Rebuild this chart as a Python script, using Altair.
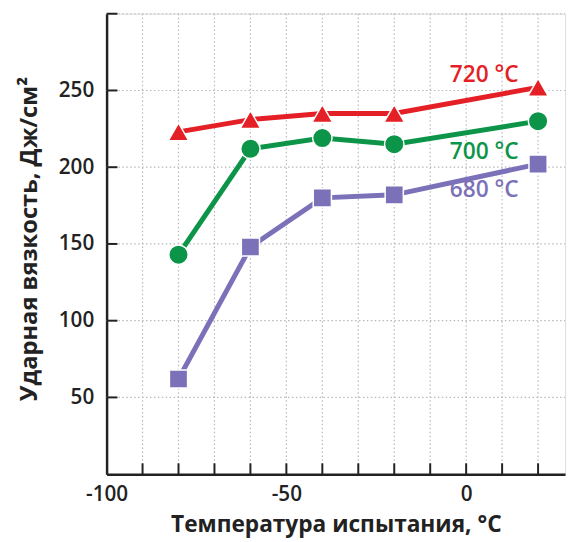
import altair as alt
import pandas as pd

temps = [-80, -60, -40, -20, 20]
v720 = [223, 231, 235, 235, 252]
v700 = [143, 212, 219, 215, 230]
v680 = [62, 148, 180, 182, 202]
series = ["720 °C", "700 °C", "680 °C"]
colors = ["#e41f26", "#0c9548", "#7b71b9"]
shapes = ["triangle-up", "circle", "square"]
sizes = [440, 340, 260]
label_x = [5, 5, 5]
label_y = [260, 210, 185]
x_ticks = list(range(-100, 21, 10))
y_ticks = list(range(0, 301, 50))
x_labels = [-100, -50, 0]

rows = []
for name, vals in zip(series, [v720, v700, v680]):
    for t, v in zip(temps, vals):
        rows.append({"series": name, "t": t, "v": v})
df = pd.DataFrame(rows)
lab = pd.DataFrame({"series": series, "x": label_x, "y": label_y})
xt = pd.DataFrame({"x": x_ticks[1:]})
yt = pd.DataFrame({"y": y_ticks[1:]})

W, H = 465, 467
FONT = "Open Sans"

xscale = alt.Scale(domain=[-100, 27.5], nice=False, zero=False)
yscale = alt.Scale(domain=[0, 300], nice=False)
cscale = alt.Scale(domain=series, range=colors)
sscale = alt.Scale(domain=series, range=shapes)
zscale = alt.Scale(domain=series, range=sizes)

xaxis = alt.Axis(
    values=x_labels, labelExpr="'' + datum.value",
    labelFlush=False, labelPadding=10, labelOverlap=False,
    title="Температура испытания, °C", titleFontSize=23,
    titleY=51, titleBaseline="middle",
)
yaxis = alt.Axis(
    values=y_ticks[1:-1], labelExpr="'' + datum.value",
    labelPadding=13, labelOverlap=False,
    title="Ударная вязкость, Дж/см²", titleFontSize=24,
    titleX=-78, titleY=228, titleAngle=270, titleAlign="center", titleBaseline="middle",
)

grid_style = dict(color="#b8b8b8", strokeWidth=1.2, strokeDash=[1.5, 2.5])
vgrid = alt.Chart(xt).mark_rule(**grid_style).encode(
    x=alt.X("x:Q", scale=xscale, axis=xaxis), y=alt.value(0), y2=alt.value(H)
)
hgrid = alt.Chart(yt).mark_rule(**grid_style).encode(
    y=alt.Y("y:Q", scale=yscale, axis=yaxis), x=alt.value(0), x2=alt.value(W)
)

base = alt.Chart(df)
lines = base.mark_line(strokeWidth=5).encode(
    x=alt.X("t:Q", scale=xscale),
    y=alt.Y("v:Q", scale=yscale),
    color=alt.Color("series:N", scale=cscale, legend=None),
    detail="series:N",
)
points = base.mark_point(filled=True, opacity=1, strokeWidth=1.5).encode(
    x="t:Q", y="v:Q",
    fill=alt.Fill("series:N", scale=cscale, legend=None),
    shape=alt.Shape("series:N", scale=sscale, legend=None),
    size=alt.Size("series:N", scale=zscale, legend=None),
    stroke=alt.value("white"),
)
labels = alt.Chart(lab).mark_text(font=FONT, fontSize=23, fontWeight=600).encode(
    x="x:Q", y="y:Q", text="series:N",
    color=alt.Color("series:N", scale=cscale, legend=None),
)
xt_marks = alt.Chart(xt).mark_rule(color="#222", strokeWidth=2).encode(
    x="x:Q", y=alt.value(H), y2=alt.value(H - 11)
)
yt_marks = alt.Chart(yt).mark_rule(color="#222", strokeWidth=2).encode(
    y="y:Q", x=alt.value(0), x2=alt.value(11)
)

chart = alt.layer(vgrid, hgrid, lines, points, labels, xt_marks, yt_marks).properties(
    width=W, height=H,
    autosize=alt.AutoSizeParams(type="none"),
    padding={"left": 100, "top": 2, "right": 3, "bottom": 65},
).configure_view(stroke=None).configure(background="white").configure_axis(
    ticks=False, grid=False, domainColor="#222", domainWidth=2.5,
    labelFont=FONT, labelFontSize=21, labelColor="#222", labelFontWeight=600,
    titleFont=FONT, titleFontWeight="bold", titleColor="#222",
)

chart.save("out.html", embed_options={"renderer": "svg", "actions": False})
